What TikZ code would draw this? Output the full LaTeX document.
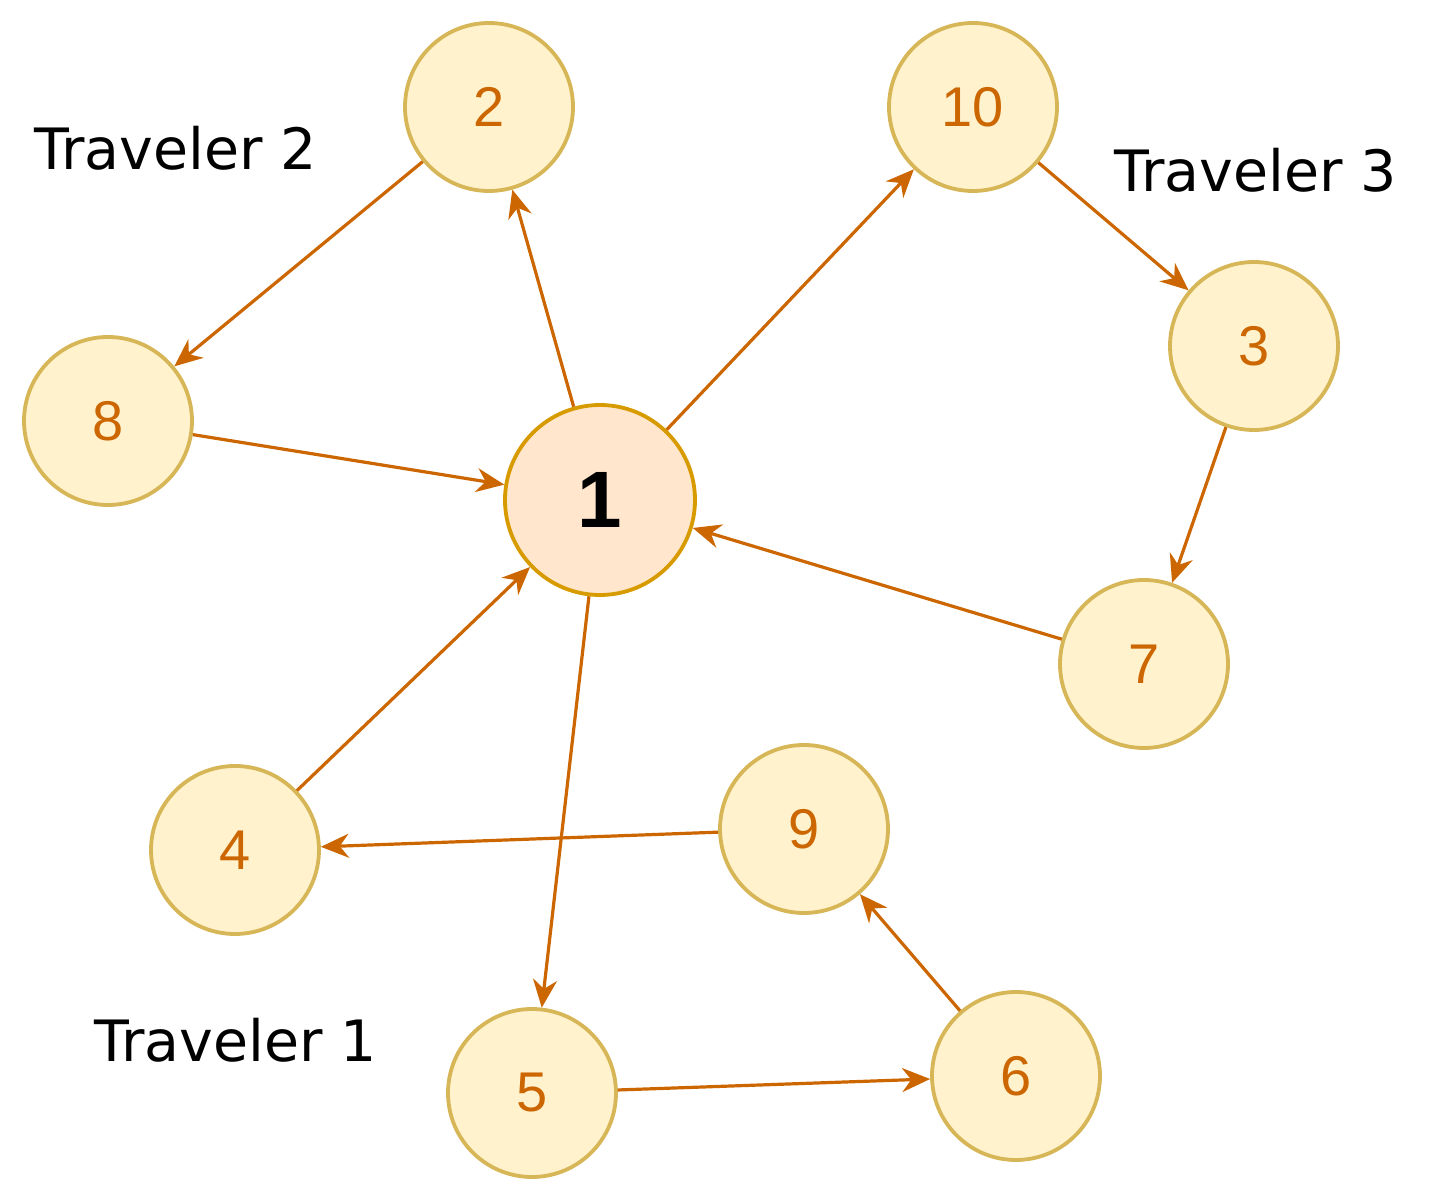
\documentclass[tikz,border=0pt]{standalone}
\usepackage{fontspec}
\setmainfont{Liberation Sans}
\newfontfamily\lbl{DejaVu Sans}
\usetikzlibrary{arrows.meta}
\definecolor{nf}{HTML}{FFF2CC}\definecolor{nd}{HTML}{D6B656}
\definecolor{cf}{HTML}{FFE6CC}\definecolor{cd}{HTML}{D79B00}
\definecolor{ed}{HTML}{CC6600}
\begin{document}
\begin{tikzpicture}[x=0.5pt,y=-0.5pt,
 n/.style={circle,draw=nd,fill=nf,line width=1.9pt,minimum size=84pt,inner sep=0pt,text=ed,font=\fontsize{28}{28}\selectfont},
 c/.style={circle,draw=cd,fill=cf,line width=1.9pt,minimum size=95pt,inner sep=0pt,font=\fontsize{40}{40}\selectfont\bfseries},
 e/.style={draw=ed,line width=1.6pt,-{Stealth[length=14pt,width=12pt]}},
 t/.style={font=\lbl\fontsize{28.5}{28.5}\selectfont}]
\useasboundingbox (0,0) rectangle (1432,1202);
\node[c] (1) at (600,500) {1};
\node[n] (2) at (489,107) {2};
\node[n] (10) at (973,107) {10};
\node[n] (3) at (1254,346) {3};
\node[n] (7) at (1144,664) {7};
\node[n] (9) at (804,829) {9};
\node[n] (6) at (1016,1076) {6};
\node[n] (5) at (532,1093) {5};
\node[n] (4) at (235,850) {4};
\node[n] (8) at (108,421) {8};
\node[t] (t2) at (176,148) {Traveler 2};
\node[t] (t3) at (1256,170) {Traveler 3};
\node[t] (t1) at (236,1040) {Traveler 1};
\draw[e] (1)--(2); \draw[e] (2)--(8); \draw[e] (8)--(1);
\draw[e] (1)--(10); \draw[e] (10)--(3); \draw[e] (3)--(7); \draw[e] (7)--(1);
\draw[e] (1)--(5); \draw[e] (5)--(6); \draw[e] (6)--(9); \draw[e] (9)--(4); \draw[e] (4)--(1);
\end{tikzpicture}
\end{document}
